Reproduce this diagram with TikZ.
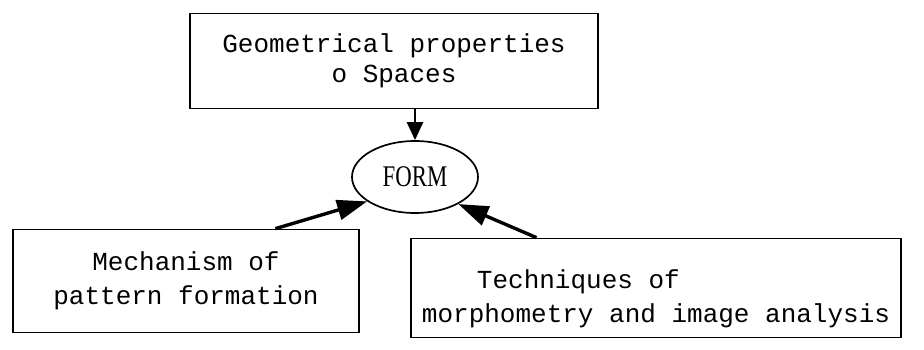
\documentclass[tikz,border=0pt]{standalone}
\usepackage{fontspec}
\setmonofont{Liberation Mono}
\setmainfont{Liberation Serif}
\usetikzlibrary{arrows.meta,calc,shapes.geometric}
\begin{document}
\begin{tikzpicture}[x=1pt,y=-1pt,
  boxstyle/.style={draw, line width=1.7pt, rectangle, inner sep=0pt, font=\fontsize{26}{34}\selectfont\ttfamily},
  formstyle/.style={draw, line width=1.7pt, ellipse, inner sep=0pt, minimum width=126pt, minimum height=72pt, font=\fontsize{30}{34}\selectfont\rmfamily},
  arr/.style={line width=3.4pt, -{Triangle[length=30pt,width=20pt]}},
  toparr/.style={line width=2.6pt, -{Triangle[length=18pt,width=16pt]}}
]
\fill[white] (0,0) rectangle (924,350);
\useasboundingbox (0,0) rectangle (924,350);
\node[boxstyle, minimum width=408pt, minimum height=95pt, align=center] (top) at (394,61)
  {Geometrical properties\\[-4pt]o Spaces};
\node[formstyle] (form) at (415,177) {\scalebox{0.76}[1]{FORM}};
\node[boxstyle, minimum width=346pt, minimum height=103pt, align=center] (left) at (186,281)
  {Mechanism of\\pattern formation};
\node[boxstyle, minimum width=490pt, minimum height=99pt, align=left] (right) at (656,288)
  {\rule{0pt}{41pt}\hspace*{55pt}Techniques of\\morphometry and image analysis};
\draw[toparr] (top.south -| form.north) -- (form.north);
\draw[arr] ($(left.north west)!0.757!(left.north east)$) -- (form.207);
\draw[arr] ($(right.north west)!0.257!(right.north east)$) -- (form.328);
\end{tikzpicture}
\end{document}
